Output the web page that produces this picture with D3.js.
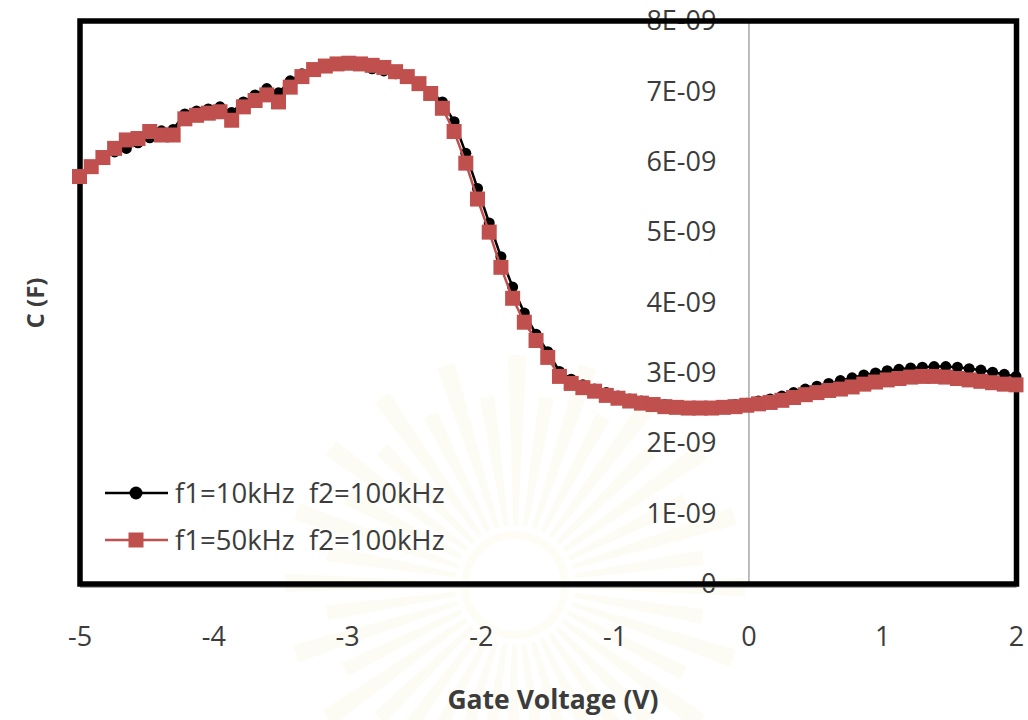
<!DOCTYPE html>
<html>
<head>
<meta charset="utf-8">
<script src="https://cdn.jsdelivr.net/npm/d3@7"></script>
<style>
  body { margin: 0; background: #ffffff; }
  svg { display: block; }
</style>
</head>
<body>
<svg id="chart" width="1028" height="720"></svg>
<script>
// Gate voltage sweep (V)
const gateVoltage = [
  -5, -4.9125, -4.825, -4.7375, -4.65, -4.5625, -4.475, -4.3875, -4.3, -4.2125,
  -4.125, -4.0375, -3.95, -3.8625, -3.775, -3.6875, -3.6, -3.5125, -3.425, -3.3375,
  -3.25, -3.1625, -3.075, -2.9875, -2.9, -2.8125, -2.725, -2.6375, -2.55, -2.4625,
  -2.375, -2.2875, -2.2, -2.1125, -2.025, -1.9375, -1.85, -1.7625, -1.675, -1.5875,
  -1.5, -1.4125, -1.325, -1.2375, -1.15, -1.0625, -0.975, -0.8875, -0.8, -0.7125,
  -0.625, -0.5375, -0.45, -0.3625, -0.275, -0.1875, -0.1, -0.0125, 0.075, 0.1625,
  0.25, 0.3375, 0.425, 0.5125, 0.6, 0.6875, 0.775, 0.8625, 0.95, 1.0375,
  1.125, 1.2125, 1.3, 1.3875, 1.475, 1.5625, 1.65, 1.7375, 1.825, 1.9125, 2
];

// Capacitance in nF, f1 = 10 kHz, f2 = 100 kHz
const capF1at10k = [
  5.80, 5.94, 6.06, 6.14, 6.19, 6.27, 6.34, 6.44, 6.46, 6.68,
  6.72, 6.75, 6.78, 6.70, 6.85, 6.95, 7.04, 6.98, 7.15, 7.25,
  7.33, 7.37, 7.39, 7.39, 7.37, 7.32, 7.29, 7.25, 7.19, 7.10,
  7.00, 6.85, 6.57, 6.12, 5.62, 5.13, 4.65, 4.22, 3.85, 3.55,
  3.30, 3.02, 2.91, 2.83, 2.77, 2.72, 2.67, 2.63, 2.60, 2.57,
  2.55, 2.53, 2.52, 2.52, 2.52, 2.53, 2.55, 2.57, 2.60, 2.63,
  2.67, 2.72, 2.77, 2.81, 2.85, 2.89, 2.93, 2.97, 3.00, 3.03,
  3.05, 3.07, 3.08, 3.09, 3.09, 3.08, 3.06, 3.04, 3.01, 2.98, 2.95
];

// Capacitance in nF, f1 = 50 kHz, f2 = 100 kHz
const capF1at50k = [
  5.79, 5.93, 6.06, 6.19, 6.31, 6.33, 6.43, 6.38, 6.38, 6.61,
  6.66, 6.69, 6.71, 6.59, 6.78, 6.87, 6.95, 6.85, 7.06, 7.21,
  7.31, 7.36, 7.39, 7.40, 7.39, 7.37, 7.34, 7.28, 7.21, 7.11,
  6.97, 6.76, 6.43, 5.98, 5.47, 5.00, 4.50, 4.06, 3.72, 3.46,
  3.22, 2.95, 2.85, 2.79, 2.74, 2.68, 2.64, 2.60, 2.57, 2.55,
  2.52, 2.51, 2.50, 2.50, 2.50, 2.51, 2.52, 2.54, 2.56, 2.58,
  2.61, 2.65, 2.69, 2.72, 2.75, 2.77, 2.80, 2.84, 2.87, 2.90,
  2.92, 2.94, 2.95, 2.95, 2.94, 2.92, 2.90, 2.88, 2.86, 2.84, 2.83
];

const seriesNames = ["f1=10kHz  f2=100kHz", "f1=50kHz  f2=100kHz"];
const seriesColors = ["#000000", "#c0504d"];
const xTickValues = [-5, -4, -3, -2, -1, 0, 1, 2];
const xTickLabels = ["-5", "-4", "-3", "-2", "-1", "0", "1", "2"];
const yTickValues = [0, 1, 2, 3, 4, 5, 6, 7, 8];
const yTickLabels = ["0", "1E-09", "2E-09", "3E-09", "4E-09", "5E-09", "6E-09", "7E-09", "8E-09"];
const xTitle = "Gate Voltage (V)";
const yTitle = "C (F)";

const svg = d3.select("#chart");
const font = "'Open Sans', 'DejaVu Sans', sans-serif";
const textColor = "#3c3c3c";

const plot = { left: 80, top: 21, right: 1016.5, bottom: 584 };
const x = d3.scaleLinear().domain([-5, 2]).range([79.5, 1016]);
const y = d3.scaleLinear().domain([0, 8]).range([584, 21]);

// very faint emblem in the background
const emblem = svg.append("g").attr("transform", "translate(515,585)");
const rays = d3.range(40);
emblem.selectAll("path.ray").data(rays).join("path")
  .attr("class", "ray")
  .attr("d", d3.arc()
    .innerRadius(60)
    .outerRadius((d, i) => i % 2 ? 190 : 230)
    .startAngle(d => d * 2 * Math.PI / 40 - 0.03)
    .endAngle(d => d * 2 * Math.PI / 40 + 0.05))
  .attr("fill", "#fdfcf4");
emblem.append("circle").attr("r", 50).attr("fill", "none")
  .attr("stroke", "#fdfcf5").attr("stroke-width", 8);

// Y axis through V = 0, labels to its left
const yAxis = d3.axisLeft(y)
  .tickValues(yTickValues)
  .tickFormat((d, i) => yTickLabels[i])
  .tickSize(0)
  .tickSizeOuter(0)
  .tickPadding(32);
const gy = svg.append("g").attr("transform", `translate(${x(0)},0)`).call(yAxis);
gy.select(".domain").attr("stroke", "#a6a6a6").attr("stroke-width", 1.5);
gy.selectAll("text")
  .attr("font-family", font).attr("font-size", 27).attr("fill", textColor);

// X axis labels below the plot
const xAxis = d3.axisBottom(x)
  .tickValues(xTickValues)
  .tickFormat((d, i) => xTickLabels[i])
  .tickSize(0)
  .tickPadding(43);
const gx = svg.append("g").attr("transform", `translate(0,${y(0)})`).call(xAxis);
gx.select(".domain").remove();
gx.selectAll("text")
  .attr("font-family", font).attr("font-size", 27).attr("fill", textColor);

// Plot frame
svg.append("line")
  .attr("x1", plot.left).attr("x2", plot.right)
  .attr("y1", y(0) + 3).attr("y2", y(0) + 3)
  .attr("stroke", "#8c8c8c").attr("stroke-width", 1.5);
svg.append("rect")
  .attr("x", plot.left).attr("y", plot.top)
  .attr("width", plot.right - plot.left).attr("height", plot.bottom - plot.top)
  .attr("fill", "none").attr("stroke", "#000").attr("stroke-width", 5.5);

// Series
const series = [capF1at10k, capF1at50k];
const line = d3.line().x((d, i) => x(gateVoltage[i])).y(d => y(d));

series.forEach((vals, s) => {
  const g = svg.append("g");
  g.append("path").datum(vals)
    .attr("d", line)
    .attr("fill", "none")
    .attr("stroke", seriesColors[s])
    .attr("stroke-width", 2.5);
  if (s === 0) {
    g.selectAll("circle").data(vals).join("circle")
      .attr("cx", (d, i) => x(gateVoltage[i]))
      .attr("cy", d => y(d))
      .attr("r", 5.5)
      .attr("fill", seriesColors[s]);
  } else {
    g.selectAll("rect").data(vals).join("rect")
      .attr("x", (d, i) => x(gateVoltage[i]) - 7.5)
      .attr("y", d => y(d) - 7.5)
      .attr("width", 15).attr("height", 15)
      .attr("fill", seriesColors[s]);
  }
});

// Legend
const legendRows = [493, 540];
seriesNames.forEach((name, s) => {
  const ly = legendRows[s];
  const g = svg.append("g");
  g.append("line")
    .attr("x1", 105).attr("x2", 168).attr("y1", ly).attr("y2", ly)
    .attr("stroke", seriesColors[s]).attr("stroke-width", 2.5);
  if (s === 0) {
    g.append("circle").attr("cx", 136).attr("cy", ly).attr("r", 6.5).attr("fill", seriesColors[s]);
  } else {
    g.append("rect").attr("x", 128.5).attr("y", ly - 7.5).attr("width", 15).attr("height", 15)
      .attr("fill", seriesColors[s]);
  }
  g.append("text")
    .attr("x", 175).attr("y", ly + 10)
    .attr("font-family", font).attr("font-size", 27.5).attr("fill", textColor)
    .style("white-space", "pre")
    .text(name);
});

// Axis titles
svg.append("text")
  .attr("x", 553).attr("y", 709)
  .attr("text-anchor", "middle")
  .attr("font-family", font).attr("font-size", 26.5).attr("font-weight", "bold")
  .attr("fill", textColor)
  .text(xTitle);
svg.append("text")
  .attr("transform", "translate(44,303) rotate(-90)")
  .attr("text-anchor", "middle")
  .attr("font-family", font).attr("font-size", 24).attr("font-weight", "bold")
  .attr("fill", textColor)
  .text(yTitle);
</script>
</body>
</html>
